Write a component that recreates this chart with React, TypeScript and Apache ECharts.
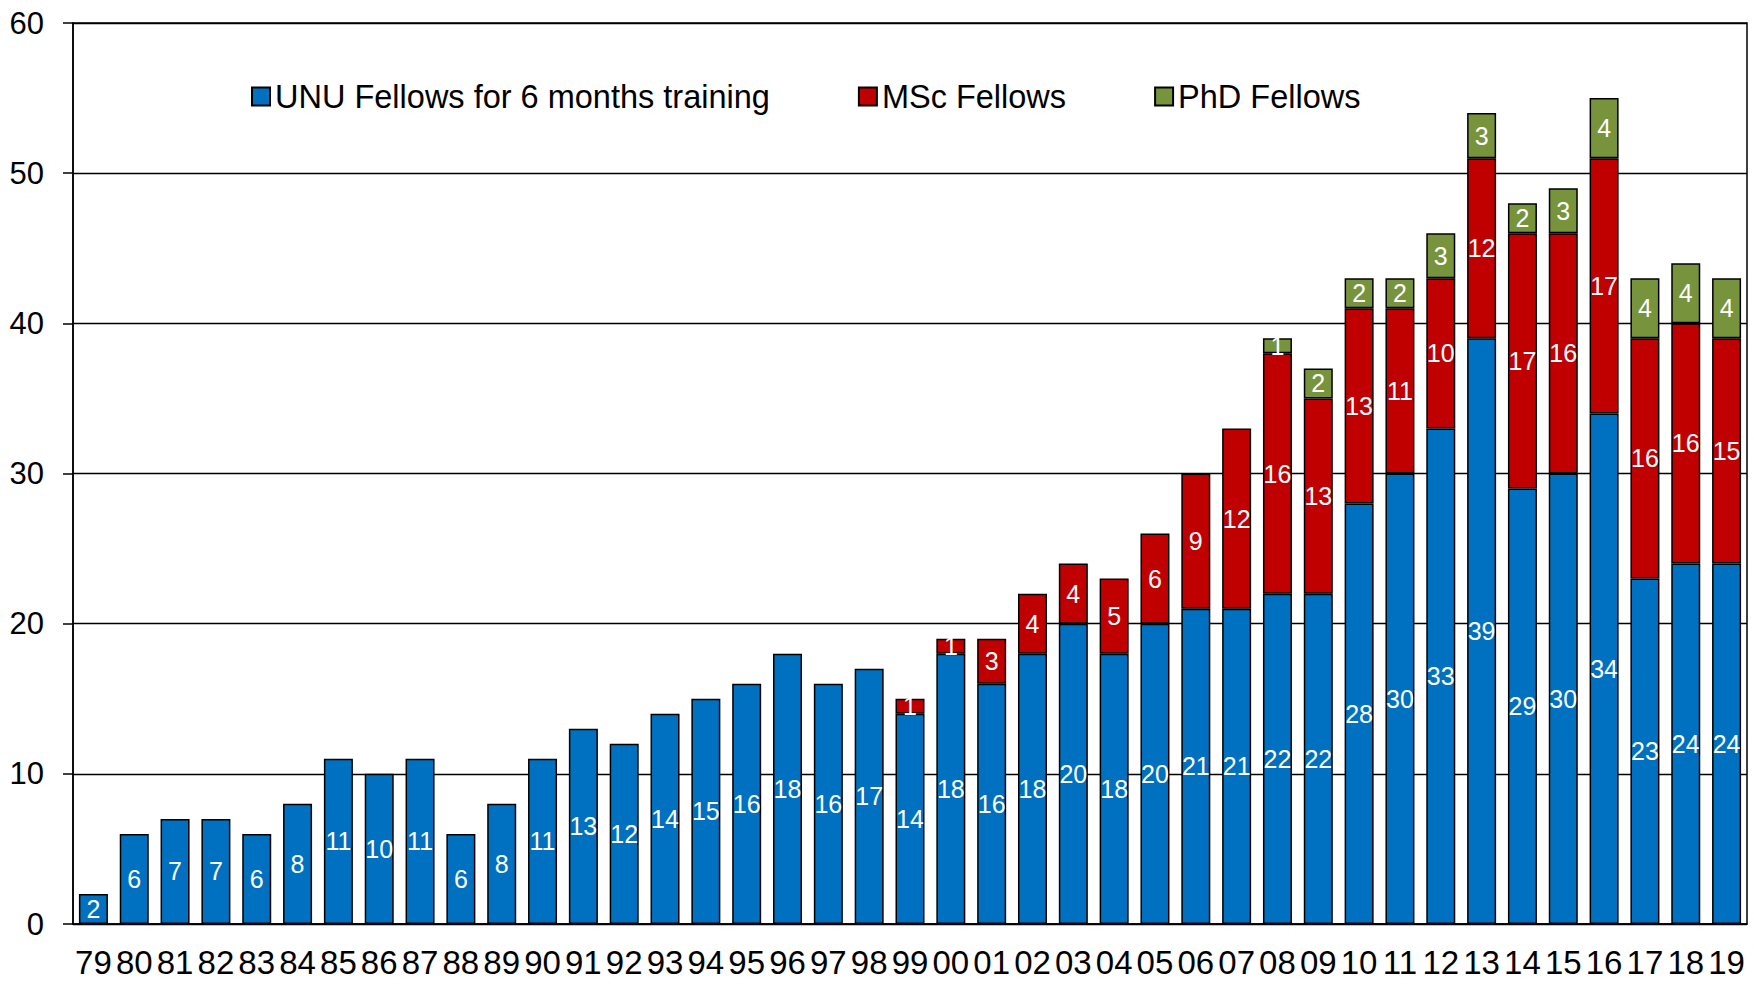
import React, { useEffect, useRef } from "react";
import * as echarts from "echarts";

const years = ["79","80","81","82","83","84","85","86","87","88","89","90","91","92","93","94","95","96","97","98","99","00","01","02","03","04","05","06","07","08","09","10","11","12","13","14","15","16","17","18","19"];
const unuFellows = [2,6,7,7,6,8,11,10,11,6,8,11,13,12,14,15,16,18,16,17,14,18,16,18,20,18,20,21,21,22,22,28,30,33,39,29,30,34,23,24,24];
const mscFellows = [null,null,null,null,null,null,null,null,null,null,null,null,null,null,null,null,null,null,null,null,1,1,3,4,4,5,6,9,12,16,13,13,11,10,12,17,16,17,16,16,15];
const phdFellows = [null,null,null,null,null,null,null,null,null,null,null,null,null,null,null,null,null,null,null,null,null,null,null,null,null,null,null,null,null,1,2,2,2,3,3,2,3,4,4,4,4];
const yTicks = [0, 10, 20, 30, 40, 50, 60];

const FONT = "'Liberation Sans', Arial, sans-serif";

export default function App() {
  const ref = useRef<HTMLDivElement>(null);
  useEffect(() => {
    if (!ref.current) return;
    const chart = echarts.init(ref.current, null, { renderer: "svg" });
    const mk = (name: string, data: (number | null)[], color: string) => ({
      name,
      type: "bar",
      stack: "total",
      data,
      barWidth: 29,
      itemStyle: { color, borderColor: "#000", borderWidth: 1.5 },
      label: {
        show: true,
        position: "inside",
        color: "#fff",
        fontSize: 25,
        fontFamily: FONT,
        formatter: (p: any) => (p.value == null ? "" : String(p.value)),
      },
    });
    chart.setOption({
      animation: false,
      backgroundColor: "#fff",
      grid: {
        left: 73,
        top: 23,
        right: 7,
        bottom: 63,
        show: true,
        borderColor: "#000",
        borderWidth: 1.5,
      },
      legend: {
        left: 246,
        top: 75,
        itemWidth: 18,
        itemHeight: 18,
        itemGap: 88,
        icon: "rect",
        textStyle: { fontSize: 32.5, fontFamily: FONT, color: "#000" },
        data: ["UNU Fellows for 6 months training", "MSc Fellows", "PhD Fellows"],
      },
      xAxis: {
        type: "category",
        data: years,
        axisLine: { lineStyle: { color: "#000", width: 1.5 } },
        axisTick: { show: false },
        axisLabel: {
          interval: 0,
          fontSize: 33,
          fontFamily: FONT,
          color: "#000",
          margin: 22,
        },
      },
      yAxis: {
        type: "value",
        min: yTicks[0],
        max: yTicks[yTicks.length - 1],
        interval: 10,
        axisLine: { show: true, lineStyle: { color: "#000", width: 1.5 } },
        axisTick: { show: true, length: 10, lineStyle: { color: "#000", width: 1.5 } },
        axisLabel: {
          fontSize: 31,
          fontFamily: FONT,
          color: "#000",
          margin: 29,
        },
        splitLine: { show: true, lineStyle: { color: "#000", width: 1.3 } },
      },
      series: [
        mk("UNU Fellows for 6 months training", unuFellows, "#0070C0"),
        mk("MSc Fellows", mscFellows, "#C00000"),
        mk("PhD Fellows", phdFellows, "#77933C"),
      ],
    });
    return () => chart.dispose();
  }, []);
  return <div ref={ref} style={{ width: 1754, height: 987, position: "absolute", left: 0, top: 0 }} />;
}
